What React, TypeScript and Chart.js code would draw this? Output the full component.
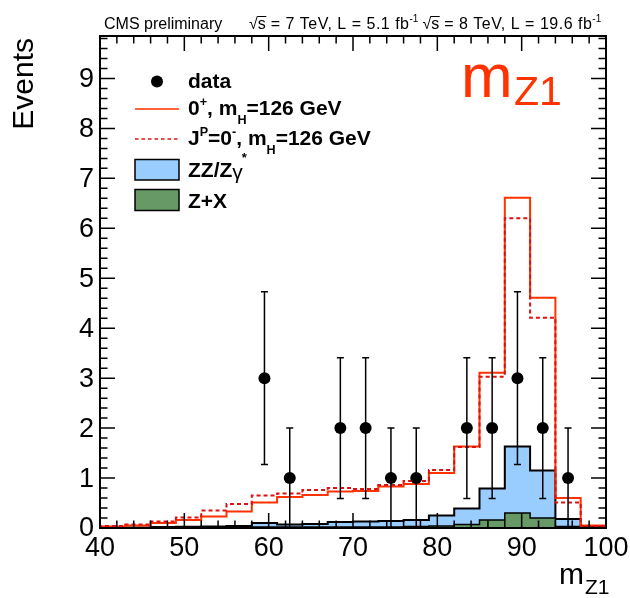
import React, { useEffect, useRef } from "react";
import { Chart, registerables } from "chart.js";

Chart.register(...registerables);

// ---------------- data ----------------
const binEdges = [40, 43, 46, 49, 52, 55, 58, 61, 64, 67, 70, 73, 76, 79, 82, 85, 88, 91, 94, 97, 100];
// Z+X background per bin
const zxValues = [0.005, 0.005, 0.01, 0.01, 0.01, 0.01, 0.02, 0.02, 0.02, 0.02, 0.02, 0.02, 0.03, 0.04, 0.07, 0.16, 0.3, 0.2, 0.03, 0.01];
// ZZ/Zgamma* background per bin (stacked above Z+X)
const zzValues = [0.005, 0.005, 0.01, 0.015, 0.02, 0.03, 0.08, 0.05, 0.06, 0.1, 0.11, 0.12, 0.13, 0.21, 0.32, 0.63, 1.33, 0.95, 0.15, 0.03];
// 0+ hypothesis, mH=126 GeV (total expectation)
const sig0pValues = [0.03, 0.05, 0.1, 0.16, 0.23, 0.33, 0.51, 0.62, 0.66, 0.73, 0.74, 0.83, 0.88, 1.1, 1.63, 3.11, 6.61, 4.61, 0.6, 0.05];
// JP=0- hypothesis, mH=126 GeV (total expectation)
const sig0mValues = [0.04, 0.07, 0.13, 0.21, 0.35, 0.48, 0.65, 0.69, 0.76, 0.8, 0.78, 0.86, 0.94, 1.16, 1.62, 3.03, 6.2, 4.21, 0.51, 0.04];
// observed data
const dataMass = [59.5, 62.5, 68.5, 71.5, 74.5, 77.5, 83.5, 86.5, 89.5, 92.5, 95.5];
const dataCounts = [3, 1, 2, 2, 1, 1, 2, 2, 3, 2, 1];
const dataErrors = [1.73, 1, 1.41, 1.41, 1, 1, 1.41, 1.41, 1.73, 1.41, 1];
// axis ticks
const xMajorTicks = [40, 50, 60, 70, 80, 90, 100];
const yMajorTicks = [0, 1, 2, 3, 4, 5, 6, 7, 8, 9];

const X_MIN = 40;
const X_MAX = 100;
const Y_MAX = 9.85;

const FONT = '"Liberation Sans", Arial, Helvetica, sans-serif';
const RED = "#ff3300";
const RED_DOT = "#dd1111";
const BLUE = "#99ccff";
const GREEN = "#669966";

function stepPoints(values: number[]) {
  const pts: { x: number; y: number }[] = [{ x: binEdges[0], y: 0 }];
  values.forEach((v, i) => pts.push({ x: binEdges[i], y: v }));
  pts.push({ x: binEdges[binEdges.length - 1], y: values[values.length - 1] });
  pts.push({ x: binEdges[binEdges.length - 1], y: 0 });
  return pts;
}

type Part = { t: string; k?: "sup" | "sub" };

function drawParts(
  ctx: CanvasRenderingContext2D,
  x: number,
  y: number,
  parts: Part[],
  size: number,
  weight: string,
  small = 0.6,
  supDy = -0.42,
  subDy = 0.42
) {
  let cx = x;
  for (const p of parts) {
    let s = size;
    let dy = 0;
    if (p.k === "sup") {
      s = size * small;
      dy = size * supDy;
    } else if (p.k === "sub") {
      s = size * small;
      dy = size * subDy;
    }
    ctx.font = `${weight} ${s}px ${FONT}`;
    ctx.fillText(p.t, cx, y + dy);
    cx += ctx.measureText(p.t).width;
  }
  return cx;
}

const decorPlugin = {
  id: "rootDecor",
  afterDatasetsDraw(chart: any) {
    const { ctx, chartArea: a, scales } = chart;
    const xs = scales.x;
    const ys = scales.y;
    ctx.save();

    // error bars
    ctx.strokeStyle = "#000";
    ctx.lineWidth = 1.5;
    dataMass.forEach((m, i) => {
      const px = xs.getPixelForValue(m);
      const lo = ys.getPixelForValue(Math.max(0, dataCounts[i] - dataErrors[i]));
      const hi = ys.getPixelForValue(dataCounts[i] + dataErrors[i]);
      ctx.beginPath();
      ctx.moveTo(px, lo);
      ctx.lineTo(px, hi);
      ctx.moveTo(px - 3.5, hi);
      ctx.lineTo(px + 3.5, hi);
      if (dataCounts[i] - dataErrors[i] > 0.001) {
        ctx.moveTo(px - 3.5, lo);
        ctx.lineTo(px + 3.5, lo);
      }
      ctx.stroke();
    });

    // frame
    ctx.lineWidth = 2;
    ctx.strokeStyle = "#000";
    ctx.strokeRect(a.left, a.top, a.right - a.left, a.bottom - a.top);

    // ticks
    ctx.lineWidth = 1.5;
    ctx.beginPath();
    for (let k = 0; k <= 30; k++) {
      const v = X_MIN + k * 2;
      const px = xs.getPixelForValue(v);
      const len = xMajorTicks.includes(v) ? 15 : 7.5;
      ctx.moveTo(px, a.bottom);
      ctx.lineTo(px, a.bottom - len);
      ctx.moveTo(px, a.top);
      ctx.lineTo(px, a.top + len);
    }
    for (let k = 0; k * 0.2 <= Y_MAX; k++) {
      const v = k * 0.2;
      const py = ys.getPixelForValue(v);
      const len = k % 5 === 0 ? 15 : 7.5;
      ctx.moveTo(a.left, py);
      ctx.lineTo(a.left + len, py);
      ctx.moveTo(a.right, py);
      ctx.lineTo(a.right - len, py);
    }
    ctx.stroke();

    // tick labels
    ctx.fillStyle = "#000";
    ctx.font = `27px ${FONT}`;
    ctx.textAlign = "center";
    ctx.textBaseline = "middle";
    xMajorTicks.forEach((v) => {
      ctx.fillText(String(v), xs.getPixelForValue(v), a.bottom + 21);
    });
    ctx.textAlign = "right";
    yMajorTicks.forEach((v) => {
      ctx.fillText(String(v), a.left - 6, ys.getPixelForValue(v) + 1);
    });

    // axis titles
    ctx.textBaseline = "alphabetic";
    ctx.save();
    ctx.translate(33, 38);
    ctx.rotate(-Math.PI / 2);
    ctx.textAlign = "right";
    ctx.font = `30px ${FONT}`;
    ctx.fillText("Events", 0, 0);
    ctx.restore();

    ctx.textAlign = "left";
    ctx.font = `30px ${FONT}`;
    ctx.fillText("m", 559, 584);
    ctx.font = `21px ${FONT}`;
    ctx.fillText("Z1", 585, 594);

    // big red label
    ctx.fillStyle = RED;
    ctx.font = `62px ${FONT}`;
    ctx.fillText("m", 461, 97);
    ctx.font = `41px ${FONT}`;
    ctx.fillText("Z1", 514, 105);

    // header
    ctx.fillStyle = "#000";
    ctx.font = `16px ${FONT}`;
    ctx.fillText("CMS preliminary", 104, 29);
    const drawSqrtGroup = (x0: number, rest: string) => {
      ctx.font = `16px ${FONT}`;
      (ctx as any).letterSpacing = "0px";
      ctx.fillText("\u221A", x0, 29);
      const w1 = ctx.measureText("\u221A").width;
      ctx.fillText("s", x0 + w1, 29);
      const ws = ctx.measureText("s").width;
      ctx.lineWidth = 1;
      ctx.strokeStyle = "#000";
      ctx.beginPath();
      ctx.moveTo(x0 + w1 - 0.5, 16.5);
      ctx.lineTo(x0 + w1 + ws + 0.5, 16.5);
      ctx.stroke();
      (ctx as any).letterSpacing = "0.5px";
      const rx = x0 + w1 + ws;
      ctx.fillText(rest, rx, 29);
      const wr = ctx.measureText(rest).width;
      (ctx as any).letterSpacing = "0px";
      ctx.font = `10px ${FONT}`;
      ctx.fillText("-1", rx + wr, 22);
      return rx + wr + ctx.measureText("-1").width;
    };
    const g1End = drawSqrtGroup(249, " = 7 TeV, L = 5.1 fb");
    drawSqrtGroup(g1End + 4, " = 8 TeV, L = 19.6 fb");

    // legend
    const lx0 = 135;
    const lx1 = 179;
    const tx = 188;
    // data
    ctx.fillStyle = "#000";
    ctx.beginPath();
    ctx.arc(157, 81.5, 6, 0, Math.PI * 2);
    ctx.fill();
    // 0+
    ctx.strokeStyle = RED;
    ctx.lineWidth = 1.5;
    ctx.setLineDash([]);
    ctx.beginPath();
    ctx.moveTo(lx0, 109);
    ctx.lineTo(lx1, 109);
    ctx.stroke();
    // 0-
    ctx.strokeStyle = RED_DOT;
    ctx.setLineDash([3.5, 3]);
    ctx.beginPath();
    ctx.moveTo(lx0, 139);
    ctx.lineTo(lx1, 139);
    ctx.stroke();
    ctx.setLineDash([]);
    // boxes
    ctx.lineWidth = 1.5;
    ctx.strokeStyle = "#000";
    ctx.fillStyle = BLUE;
    ctx.fillRect(lx0, 159.5, lx1 - lx0, 20.5);
    ctx.strokeRect(lx0, 159.5, lx1 - lx0, 20.5);
    ctx.fillStyle = GREEN;
    ctx.fillRect(lx0, 189.5, lx1 - lx0, 21);
    ctx.strokeRect(lx0, 189.5, lx1 - lx0, 21);

    ctx.fillStyle = "#000";
    const LS = 21;
    drawParts(ctx, tx, 88, [{ t: "data" }], LS, "bold");
    drawParts(ctx, tx, 115, [{ t: "0" }, { t: "+", k: "sup" }, { t: ", m" }, { t: "H", k: "sub" }, { t: "=126 GeV" }], LS, "bold");
    drawParts(ctx, tx, 145, [{ t: "J" }, { t: "P", k: "sup" }, { t: "=0" }, { t: "-", k: "sup" }, { t: ", m" }, { t: "H", k: "sub" }, { t: "=126 GeV" }], LS, "bold");
    const ex = drawParts(ctx, tx, 177, [{ t: "ZZ/Z" }], LS, "bold");
    ctx.font = `normal 21px ${FONT}`;
    ctx.fillText("\u03B3", ex, 179);
    const gw = ctx.measureText("\u03B3").width;
    ctx.font = `bold 13px ${FONT}`;
    ctx.fillText("*", ex + gw - 1, 162);
    drawParts(ctx, tx, 208, [{ t: "Z+X" }], LS, "bold");

    ctx.restore();
  },
};

export default function App() {
  const canvasRef = useRef<HTMLCanvasElement | null>(null);

  useEffect(() => {
    const canvas = canvasRef.current;
    if (!canvas) return;
    const stackTotal = zzValues.map((v, i) => v + zxValues[i]);
    const chart = new Chart(canvas, {
      type: "line",
      data: {
        datasets: [
          {
            label: "data",
            data: dataMass.map((m, i) => ({ x: m, y: dataCounts[i] })),
            showLine: false,
            pointRadius: 6,
            pointBackgroundColor: "#000",
            pointBorderWidth: 0,
            borderColor: "#000",
            order: 0,
          },
          {
            label: "JP=0-",
            data: stepPoints(sig0mValues),
            stepped: true,
            borderColor: RED_DOT,
            borderWidth: 2,
            borderDash: [4, 3],
            pointRadius: 0,
            fill: false,
            order: 1,
          },
          {
            label: "0+",
            data: stepPoints(sig0pValues),
            stepped: true,
            borderColor: RED,
            borderWidth: 2,
            pointRadius: 0,
            fill: false,
            order: 2,
          },
          {
            label: "Z+X",
            data: stepPoints(zxValues),
            stepped: true,
            borderColor: "#000",
            borderWidth: 1.5,
            backgroundColor: GREEN,
            pointRadius: 0,
            fill: "origin",
            order: 3,
          },
          {
            label: "ZZ/Zgamma*",
            data: stepPoints(stackTotal),
            stepped: true,
            borderColor: "#000",
            borderWidth: 2,
            backgroundColor: BLUE,
            pointRadius: 0,
            fill: "origin",
            order: 4,
          },
        ],
      },
      options: {
        responsive: false,
        devicePixelRatio: 1,
        animation: false,
        layout: { padding: { left: 100, right: 24, top: 36, bottom: 70 } },
        scales: {
          x: { type: "linear", min: X_MIN, max: X_MAX, display: false },
          y: { type: "linear", min: 0, max: Y_MAX, display: false },
        },
        plugins: {
          legend: { display: false },
          tooltip: { enabled: false },
        },
        elements: { line: { tension: 0 } },
      },
      plugins: [decorPlugin],
    });
    return () => chart.destroy();
  }, []);

  return (
    <div style={{ position: "absolute", left: 0, top: 0, width: 630, height: 598, background: "#fff" }}>
      <canvas ref={canvasRef} width={630} height={598} style={{ width: 630, height: 598 }} />
    </div>
  );
}
